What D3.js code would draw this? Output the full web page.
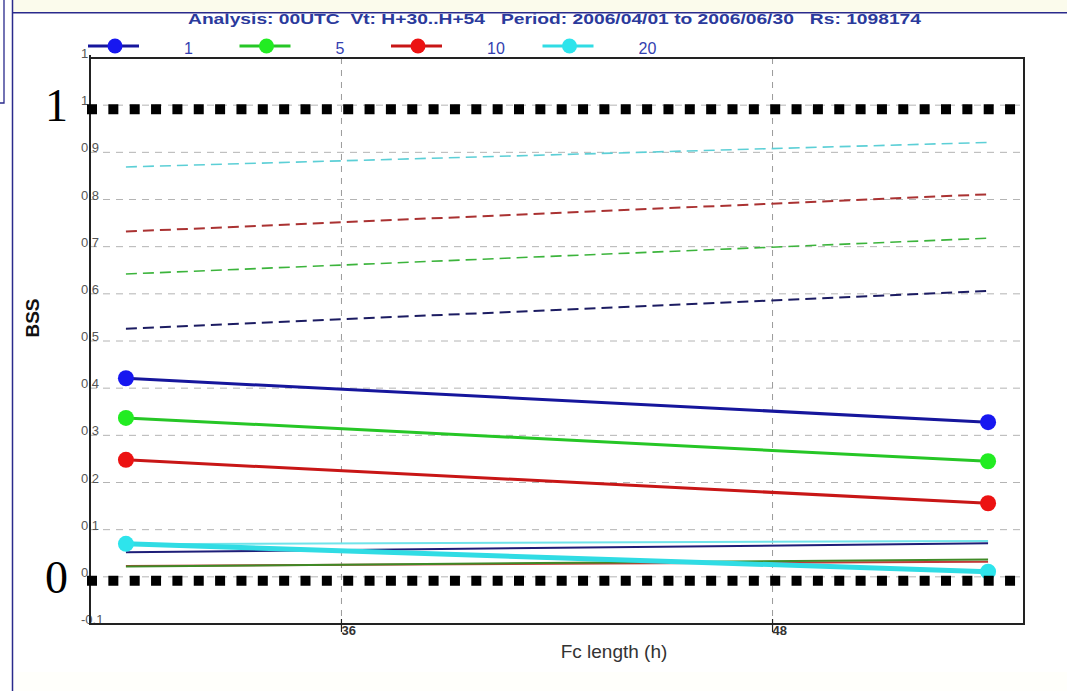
<!DOCTYPE html>
<html><head><meta charset="utf-8">
<script src="https://cdn.jsdelivr.net/npm/d3@7"></script>
<style>
html,body{margin:0;padding:0;background:#fff;}
svg{display:block;}
text{font-family:"Liberation Sans",Arial,sans-serif;}
</style></head><body>
<svg id="chart" width="1067" height="691"></svg>
<script>
// Forecast length (h) at which each score is evaluated
const leadHours = [30, 54];

// Brier skill score per threshold: main curves (solid, end markers)
const bssThr1  = [0.421, 0.328];
const bssThr5  = [0.337, 0.245];
const bssThr10 = [0.248, 0.156];
const bssThr20 = [0.070, 0.011];

// Upper dashed curves
const dashThr1  = [0.526, 0.606];
const dashThr5  = [0.642, 0.718];
const dashThr10 = [0.732, 0.811];
const dashThr20 = [0.869, 0.921];

// Thin solid curves near zero
const lowThr1  = [0.052, 0.071];
const lowThr5  = [0.022, 0.037];
const lowThr10 = [0.023, 0.032];
const lowThr20 = [0.069, 0.076];

const legendLabels = ["1", "5", "10", "20"];
const xTicks = [36, 48];
const xTickLabels = ["36", "48"];
const yTicks = [-0.1, 0, 0.1, 0.2, 0.3, 0.4, 0.5, 0.6, 0.7, 0.8, 0.9, 1, 1.1];
const yTickLabels = ["-0.1", "0", "0.1", "0.2", "0.3", "0.4", "0.5", "0.6", "0.7", "0.8", "0.9", "1", "1"];
const refLevels = [1, 0];
const refLabels = ["1", "0"];

const titleText = "Analysis: 00UTC  Vt: H+30..H+54   Period: 2006/04/01 to 2006/06/30   Rs: 1098174";

const colors = {
  thr1:  {line: "#16169c", marker: "#1717f0", dash: "#1c1c62", thin: "#1e1e78"},
  thr5:  {line: "#26c626", marker: "#22ec22", dash: "#3cb43c", thin: "#3f8a26"},
  thr10: {line: "#c81616", marker: "#ec1212", dash: "#aa3232", thin: "#c03a3a"},
  thr20: {line: "#30dce4", marker: "#2ee4ec", dash: "#5ccfd6", thin: "#70e4ea"}
};
const keys = ["thr1", "thr5", "thr10", "thr20"];
const mainSeries = {thr1: bssThr1, thr5: bssThr5, thr10: bssThr10, thr20: bssThr20};
const dashSeries = {thr1: dashThr1, thr5: dashThr5, thr10: dashThr10, thr20: dashThr20};
const lowSeries  = {thr1: lowThr1, thr5: lowThr5, thr10: lowThr10, thr20: lowThr20};

const svg = d3.select("#chart");
const W = 1067, H = 691;

// page background and frame
svg.append("rect").attr("x", 0).attr("y", 0).attr("width", W).attr("height", H).attr("fill", "#ffffff");
svg.append("rect").attr("x", 12).attr("y", 0).attr("width", W - 12).attr("height", 13).attr("fill", "#fbfbec");
svg.append("rect").attr("x", 13).attr("y", 672).attr("width", W - 13).attr("height", 19).attr("fill", "#fffffb");

const x = d3.scaleLinear().domain([29, 55]).range([90, 1024]);
const y = d3.scaleLinear().domain([-0.1, 1.1]).range([624, 58]);
const [x0, x1] = x.range();
const [yb, yt] = y.range();

// title, clipped by the frame line
const defs = svg.append("defs");
defs.append("clipPath").attr("id", "titleClip")
  .append("rect").attr("x", 13).attr("y", 13.5).attr("width", W).attr("height", 40);
svg.append("text")
  .attr("clip-path", "url(#titleClip)")
  .attr("x", 188).attr("y", 24)
  .attr("textLength", 733).attr("lengthAdjust", "spacingAndGlyphs")
  .style("white-space", "pre")
  .attr("font-size", 15).attr("font-weight", "bold").attr("fill", "#2b3a9c")
  .text(titleText);

// frame lines
svg.append("line").attr("x1", 12.5).attr("x2", 12.5).attr("y1", 0).attr("y2", H)
  .attr("stroke", "#2a2a8c").attr("stroke-width", 1.5);
svg.append("line").attr("x1", 12).attr("x2", W).attr("y1", 12.8).attr("y2", 12.8)
  .attr("stroke", "#2a2a8c").attr("stroke-width", 1.5);
svg.append("path").attr("d", "M4,0V103H0").attr("fill", "none")
  .attr("stroke", "#2a2a8c").attr("stroke-width", 1.3);

// plot area
svg.append("rect").attr("x", x0).attr("y", yt).attr("width", x1 - x0).attr("height", yb - yt).attr("fill", "#ffffff");

// grid
const grid = svg.append("g");
grid.selectAll("line.hg").data(yTicks.filter(v => v > -0.1 && v < 1.1)).join("line")
  .attr("x1", x0).attr("x2", x1).attr("y1", d => y(d)).attr("y2", d => y(d))
  .attr("stroke", "#b4b4b4").attr("stroke-width", 1).attr("stroke-dasharray", "7,6");
grid.selectAll("line.vg").data(xTicks).join("line")
  .attr("x1", d => x(d)).attr("x2", d => x(d)).attr("y1", yt).attr("y2", yb)
  .attr("stroke", "#9a9a9a").attr("stroke-width", 1).attr("stroke-dasharray", "6,6");

const line = d3.line().x((d, i) => x(leadHours[i])).y(d => y(d));
const plot = svg.append("g");

// upper dashed curves
keys.forEach(k => {
  plot.append("path").datum(dashSeries[k]).attr("d", line)
    .attr("fill", "none").attr("stroke", colors[k].dash)
    .attr("stroke-width", k === "thr1" || k === "thr10" ? 2 : 1.6)
    .attr("stroke-dasharray", "11,6");
});

// thin curves near zero
["thr10", "thr5", "thr1", "thr20"].forEach(k => {
  plot.append("path").datum(lowSeries[k]).attr("d", line)
    .attr("fill", "none").attr("stroke", colors[k].thin).attr("stroke-width", 2);
});

// main curves with end markers
keys.forEach(k => {
  const vals = mainSeries[k];
  plot.append("path").datum(vals).attr("d", line)
    .attr("fill", "none").attr("stroke", colors[k].line)
    .attr("stroke-width", k === "thr20" ? 5 : 3);
  plot.selectAll(null).data(vals).join("circle")
    .attr("cx", (d, i) => x(leadHours[i])).attr("cy", d => y(d)).attr("r", 8)
    .attr("fill", colors[k].marker);
});

// axes
const axisG = svg.append("g");
axisG.selectAll("text.yl").data(yTicks).join("text")
  .attr("x", 81).attr("y", d => y(d))
  .attr("font-size", 13).attr("fill", "#555")
  .text((d, i) => yTickLabels[i]);
axisG.selectAll("text.xl").data(xTicks).join("text")
  .attr("x", d => x(d)).attr("y", yb + 11)
  .attr("font-size", 13).attr("font-weight", "bold").attr("fill", "#333")
  .text((d, i) => xTickLabels[i]);
axisG.selectAll("line.xt").data(xTicks).join("line")
  .attr("x1", d => x(d)).attr("x2", d => x(d)).attr("y1", yb - 5).attr("y2", yb + 8)
  .attr("stroke", "#222").attr("stroke-width", 1.2);
axisG.append("rect").attr("x", x0).attr("y", yt).attr("width", x1 - x0).attr("height", yb - yt)
  .attr("fill", "none").attr("stroke", "#222").attr("stroke-width", 2);
axisG.append("line").attr("x1", x0).attr("x2", x0).attr("y1", yt - 3).attr("y2", yb)
  .attr("stroke", "#222").attr("stroke-width", 2);

// axis titles
svg.append("text").attr("transform", "translate(39,318) rotate(-90)")
  .attr("text-anchor", "middle").attr("font-size", 19).attr("font-weight", "bold").attr("fill", "#111")
  .text("BSS");
svg.append("text").attr("x", 614).attr("y", 658).attr("text-anchor", "middle")
  .attr("font-size", 19).attr("fill", "#333")
  .text("Fc length (h)");

// legend
const legend = svg.append("g");
legendLabels.forEach((lab, i) => {
  const k = keys[i];
  const lx = 88 + i * 151.5;
  legend.append("line").attr("x1", lx).attr("x2", lx + 51).attr("y1", 46).attr("y2", 46)
    .attr("stroke", colors[k].line).attr("stroke-width", 3);
  legend.append("circle").attr("cx", lx + 27).attr("cy", 46).attr("r", 7.5).attr("fill", colors[k].marker);
  legend.append("text").attr("x", lx + 96).attr("y", 54)
    .attr("font-size", 16).attr("fill", "#3340b0").text(lab);
});

// reference levels: heavy dotted lines with large labels
const ref = svg.append("g");
refLevels.forEach((v, i) => {
  ref.append("line").attr("x1", 87).attr("x2", 1022).attr("y1", y(v) + 4).attr("y2", y(v) + 4)
    .attr("stroke", "#000").attr("stroke-width", 10).attr("stroke-dasharray", "10,11.35");
  ref.append("text").attr("x", 45).attr("y", y(v) + 16)
    .style("font-family", "'Liberation Serif', 'Times New Roman', serif")
    .attr("font-size", 46).attr("fill", "#000").text(refLabels[i]);
});
</script>
</body></html>
